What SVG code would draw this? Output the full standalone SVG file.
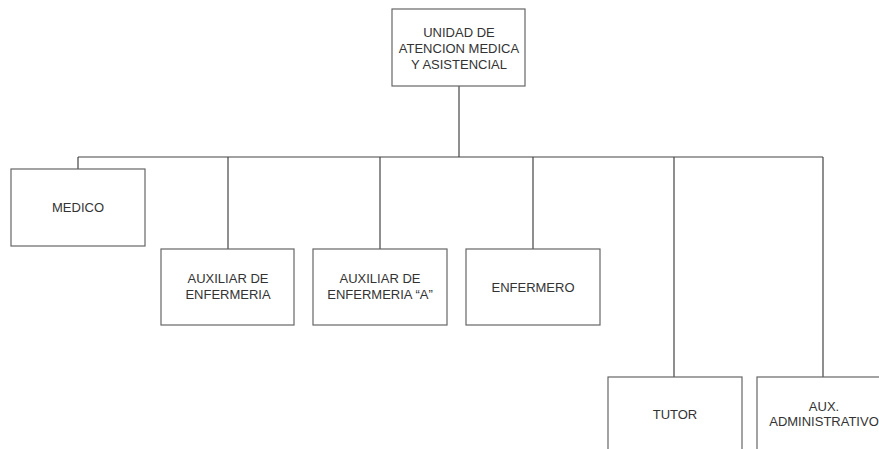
<svg xmlns="http://www.w3.org/2000/svg" width="879" height="449" viewBox="0 0 879 449">
<style>
.box{fill:#fff;stroke:#666;stroke-width:1.2}
.ln{stroke:#444;stroke-width:1.2;fill:none}
text{font-family:"Liberation Sans",Arial,sans-serif;font-size:13px;fill:#333;text-anchor:middle}
</style>
<rect width="879" height="449" fill="#fff"/>
<g id="connectors">
<line class="ln" x1="459" y1="86" x2="459" y2="157"/>
<line class="ln" x1="78" y1="157" x2="823" y2="157"/>
<line class="ln" x1="78" y1="157" x2="78" y2="169"/>
<line class="ln" x1="228" y1="157" x2="228" y2="249"/>
<line class="ln" x1="380" y1="157" x2="380" y2="249"/>
<line class="ln" x1="533" y1="157" x2="533" y2="249"/>
<line class="ln" x1="674" y1="157" x2="674" y2="377"/>
<line class="ln" x1="823" y1="157" x2="823" y2="377"/>
</g>
<g id="unidad">
<rect class="box" x="392" y="9" width="133" height="77"/>
<text x="459" y="37">UNIDAD DE</text>
<text x="459" y="53">ATENCION MEDICA</text>
<text x="459" y="69">Y ASISTENCIAL</text>
</g>
<g id="medico">
<rect class="box" x="11" y="169" width="134" height="77"/>
<text x="78" y="212">MEDICO</text>
</g>
<g id="aux-enfermeria">
<rect class="box" x="161" y="249" width="133" height="76"/>
<text x="228" y="283">AUXILIAR DE</text>
<text x="228" y="299">ENFERMERIA</text>
</g>
<g id="aux-enfermeria-a">
<rect class="box" x="313" y="249" width="134" height="76"/>
<text x="380" y="283">AUXILIAR DE</text>
<text x="380" y="299">ENFERMERIA “A”</text>
</g>
<g id="enfermero">
<rect class="box" x="466" y="249" width="134" height="76"/>
<text x="533" y="292">ENFERMERO</text>
</g>
<g id="tutor">
<rect class="box" x="608" y="377" width="134" height="77"/>
<text x="675" y="419">TUTOR</text>
</g>
<g id="aux-administrativo">
<rect class="box" x="757" y="377" width="134" height="77"/>
<text x="824" y="411">AUX.</text>
<text x="824" y="426">ADMINISTRATIVO</text>
</g>
</svg>
